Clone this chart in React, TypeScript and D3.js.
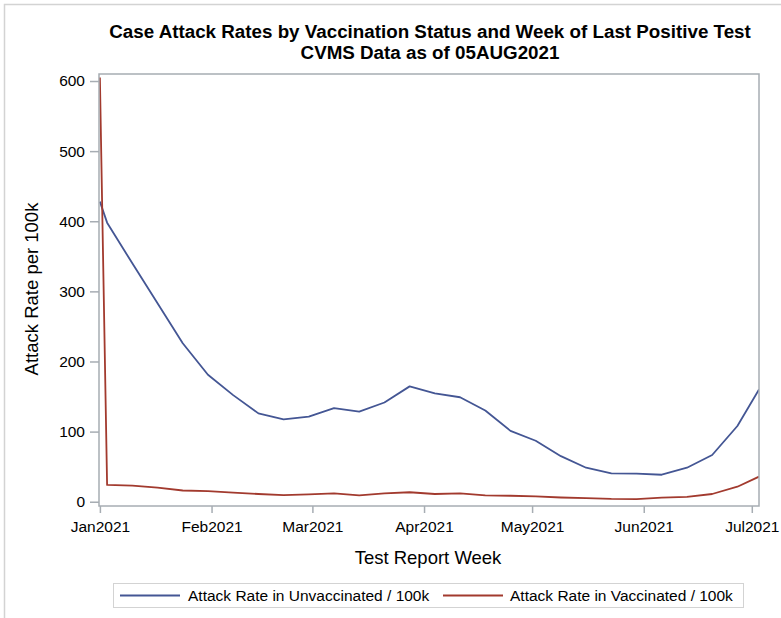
import React, { useRef, useEffect } from "react";
import { select, scaleLinear, scaleTime, line, axisLeft, axisBottom, timeFormat } from "d3";

// weekly points (test report week)
const weekDates = [
  "2021-01-01", "2021-01-03", "2021-01-10", "2021-01-17", "2021-01-24", "2021-01-31",
  "2021-02-07", "2021-02-14", "2021-02-21", "2021-02-28", "2021-03-07", "2021-03-14",
  "2021-03-21", "2021-03-28", "2021-04-04", "2021-04-11", "2021-04-18", "2021-04-25",
  "2021-05-02", "2021-05-09", "2021-05-16", "2021-05-23", "2021-05-30", "2021-06-06",
  "2021-06-13", "2021-06-20", "2021-06-27", "2021-07-03"
];
const unvaccinated = [
  428, 398, 340, 283, 226, 181, 152, 126, 117.5, 121.5, 133.5, 128.4, 141.5, 164.5,
  154.6, 149, 130, 101, 87, 65, 48.5, 40.5, 40, 38.5, 48.5, 66.6, 108, 160
];
const vaccinated = [
  605, 24, 23, 20, 16, 15, 13, 11, 9.5, 10.5, 12, 9, 12, 13.5,
  11, 12, 9, 8.5, 7.5, 6, 5, 4, 3.8, 5.7, 7, 11, 21.4, 35.7
];
const monthTicks = ["2021-01-01", "2021-02-01", "2021-03-01", "2021-04-01", "2021-05-01", "2021-06-01", "2021-07-01"];
const yTicks = [0, 100, 200, 300, 400, 500, 600];
const seriesNames = ["Attack Rate in Unvaccinated / 100k", "Attack Rate in Vaccinated / 100k"];
const seriesColors = ["#445694", "#A23A2E"];

const FONT = "'Liberation Sans', Arial, sans-serif";

const App = () => {
  const svgRef = useRef<SVGSVGElement>(null);

  const left = 99, right = 759, top = 74, bottom = 506;

  useEffect(() => {
    const svg = select(svgRef.current);

    const xScale = scaleTime()
      .domain([new Date(2020, 11, 31, 18), new Date(2021, 6, 3)])
      .range([left, right]);
    const yScale = scaleLinear().domain([-6.1, 610]).range([bottom, top]);

    const parse = (s: string) => {
      const [y, m, d] = s.split("-").map(Number);
      return new Date(y, m - 1, d);
    };

    const lineGen = line<number>()
      .x((d, i) => xScale(parse(weekDates[i])))
      .y(d => yScale(d));

    const content = svg.select(".content");
    content.selectAll("path").remove();
    [unvaccinated, vaccinated].forEach((vals, k) => {
      content
        .append("path")
        .datum(vals)
        .attr("fill", "none")
        .attr("stroke", seriesColors[k])
        .attr("stroke-width", 1.8)
        .attr("stroke-linejoin", "round")
        .attr("d", lineGen as any);
    });

    // axes
    const fmt = timeFormat("%b%Y");
    const xAxis = axisBottom(xScale)
      .tickValues(monthTicks.map(parse))
      .tickFormat(d => fmt(d as Date))
      .tickSize(7)
      .tickPadding(8);
    svg.select(".x-axis")
      .attr("transform", `translate(0,${bottom})`)
      .call(xAxis as any);

    const yAxis = axisLeft(yScale).tickValues(yTicks).tickSize(9).tickPadding(5);
    svg.select(".y-axis")
      .attr("transform", `translate(${left},0)`)
      .call(yAxis as any);

    svg.selectAll(".x-axis .domain, .y-axis .domain").remove();
    svg.selectAll(".x-axis line, .y-axis line")
      .attr("stroke", "#A7ADB3")
      .attr("stroke-width", 1.5);
    svg.selectAll(".x-axis text, .y-axis text")
      .attr("fill", "#000")
      .style("font-family", FONT)
      .style("font-size", "15.5px");
  }, []);

  return (
    <svg
      ref={svgRef}
      width={781}
      height={618}
      style={{ position: "absolute", left: 0, top: 0, background: "#fff" }}
    >
      <defs>
        <clipPath id="plot-clip">
          <rect x={left} y={top} width={right - left} height={bottom - top} />
        </clipPath>
      </defs>
      {/* outer frame */}
      <path d="M4.5,618 L4.5,4.5 L781,4.5" fill="none" stroke="#D3D3D3" strokeWidth={1.5} />

      <text x={430} y={38} textAnchor="middle" fontFamily={FONT} fontWeight="bold" fontSize={18.8}>
        Case Attack Rates by Vaccination Status and Week of Last Positive Test
      </text>
      <text x={430} y={59} textAnchor="middle" fontFamily={FONT} fontWeight="bold" fontSize={18.8}>
        CVMS Data as of 05AUG2021
      </text>

      <g className="content" clipPath="url(#plot-clip)" />
      <rect x={left} y={top} width={right - left} height={bottom - top} fill="none" stroke="#A7ADB3" strokeWidth={1.5} />
      <g className="x-axis" />
      <g className="y-axis" />

      <text
        transform={`translate(38,${(top + bottom) / 2 - 1}) rotate(-90)`}
        textAnchor="middle"
        fontFamily={FONT}
        fontSize={18.5}
      >
        Attack Rate per 100k
      </text>
      <text x={428} y={564} textAnchor="middle" fontFamily={FONT} fontSize={18.5}>
        Test Report Week
      </text>

      {/* legend */}
      <rect x={113.5} y={583.5} width={630} height={24} fill="none" stroke="#D3D3D3" strokeWidth={1} />
      <line x1={120} x2={180} y1={595.5} y2={595.5} stroke={seriesColors[0]} strokeWidth={2} />
      <text x={188} y={601} fontFamily={FONT} fontSize={15.5}>{seriesNames[0]}</text>
      <line x1={443} x2={503} y1={595.5} y2={595.5} stroke={seriesColors[1]} strokeWidth={2} />
      <text x={510} y={601} fontFamily={FONT} fontSize={15.5}>{seriesNames[1]}</text>
    </svg>
  );
};

export default App;
